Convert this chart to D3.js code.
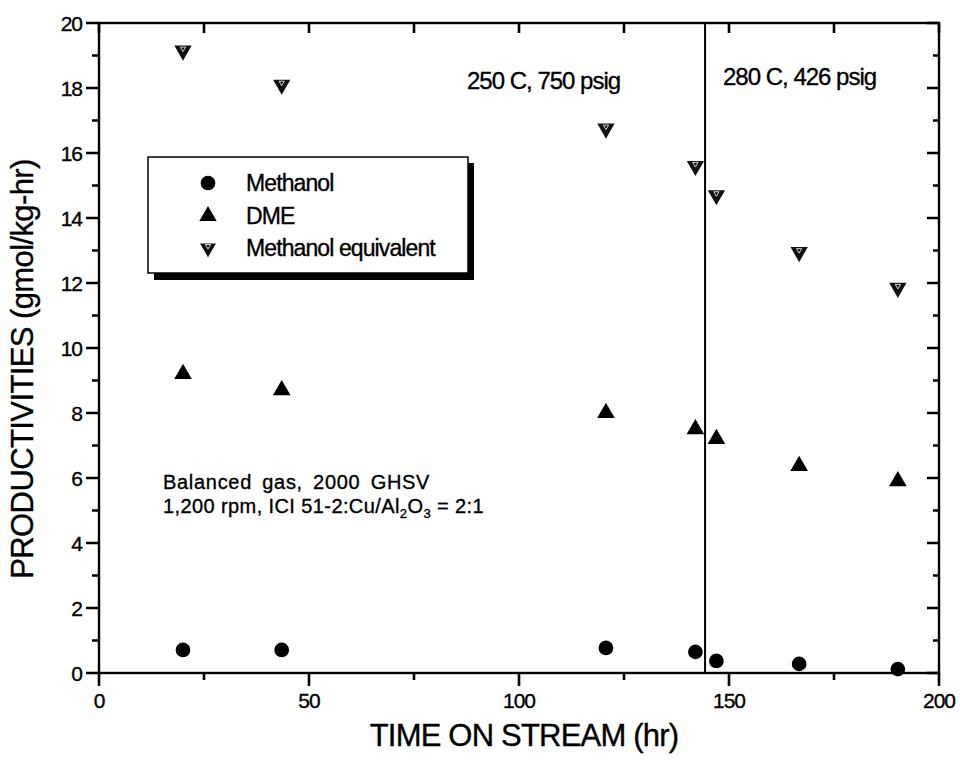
<!DOCTYPE html>
<html><head><meta charset="utf-8">
<script src="https://cdn.jsdelivr.net/npm/d3@7"></script>
<style>
body{margin:0;background:#fff;}
svg{display:block;font-family:"Liberation Sans",Arial,sans-serif;}
</style></head>
<body>
<svg id="c" width="960" height="761"></svg>
<script>
const hours = [20, 43.5, 120.7, 142, 147, 166.7, 190.2];
const methanol = [0.71, 0.71, 0.77, 0.65, 0.37, 0.28, 0.12];
const dme = [9.2, 8.7, 8.0, 7.5, 7.2, 6.37, 5.9];
const methanolEquiv = [19.15, 18.1, 16.75, 15.6, 14.7, 12.95, 11.85];
const seriesNames = ["Methanol", "DME", "Methanol equivalent"];
const xTicks = [0, 50, 100, 150, 200];
const xMinorTicks = [25, 75, 125, 175];
const yTicks = [0, 2, 4, 6, 8, 10, 12, 14, 16, 18, 20];
const yMinorTicks = [1, 3, 5, 7, 9, 11, 13, 15, 17, 19];
const changeTime = 144.3;
const regionLabels = ["250 C, 750 psig", "280 C, 426 psig"];

const svg = d3.select("#c");
const L = 99, R = 939, T = 23, B = 673;
const x = d3.scaleLinear().domain([0, 200]).range([L, R]);
const y = d3.scaleLinear().domain([0, 20]).range([B, T]);
const SW = 2.4;

// ticks: bottom/left outward, top/right inward
const p = d3.path();
xTicks.forEach(d => { p.moveTo(x(d), B); p.lineTo(x(d), B + 13); });
xMinorTicks.forEach(d => { p.moveTo(x(d), B); p.lineTo(x(d), B + 7); });
xTicks.concat(xMinorTicks).forEach(d => { p.moveTo(x(d), T); p.lineTo(x(d), T + 10); });
yTicks.forEach(d => { p.moveTo(L, y(d)); p.lineTo(L - 13, y(d)); p.moveTo(R, y(d)); p.lineTo(R - 12, y(d)); });
yMinorTicks.forEach(d => { p.moveTo(L, y(d)); p.lineTo(L - 7, y(d)); p.moveTo(R, y(d)); p.lineTo(R - 6, y(d)); });
svg.append("path").attr("d", p.toString()).attr("fill", "none").attr("stroke", "#000").attr("stroke-width", 2.6);

const heavy = sel => sel.attr("stroke", "#000").attr("stroke-width", 0.35);

// tick labels
heavy(svg.append("g").selectAll("text").data(xTicks).join("text")
  .attr("x", d => x(d)).attr("y", 708).attr("text-anchor", "middle")
  .attr("font-size", 21).attr("letter-spacing", -1).text(d => d));
heavy(svg.append("g").selectAll("text").data(yTicks).join("text")
  .attr("x", 82).attr("y", d => y(d) + 7.5).attr("text-anchor", "end")
  .attr("font-size", 21).attr("letter-spacing", -1).text(d => d));

// frame
svg.append("rect").attr("x", L).attr("y", T).attr("width", R - L).attr("height", B - T)
  .attr("fill", "none").attr("stroke", "#000").attr("stroke-width", SW);

// vertical divider
svg.append("line").attr("x1", x(changeTime)).attr("x2", x(changeTime))
  .attr("y1", T).attr("y2", B).attr("stroke", "#000").attr("stroke-width", 2);

// axis titles
heavy(svg.append("text").attr("x", 524).attr("y", 746).attr("text-anchor", "middle")
  .attr("font-size", 31).attr("letter-spacing", -0.8).text("TIME ON STREAM (hr)"));
heavy(svg.append("text").attr("transform", "translate(33,369) rotate(-90)").attr("text-anchor", "middle")
  .attr("font-size", 31).attr("letter-spacing", -0.6).text("PRODUCTIVITIES (gmol/kg-hr)"));

// symbols
const circ = d3.symbol().type(d3.symbolCircle).size(170);
const up = d3.symbol().type(d3.symbolTriangle).size(135);
function downTri(g, cx, cy, sz) {
  g.append("path").attr("d", d3.symbol().type(d3.symbolTriangle).size(sz)())
    .attr("transform", `translate(${cx},${cy}) rotate(180)`).attr("fill", "#111");
  g.append("path").attr("d", d3.symbol().type(d3.symbolTriangle).size(12)())
    .attr("transform", `translate(${cx},${cy - 2}) rotate(180)`).attr("fill", "none")
    .attr("stroke", "#fff").attr("stroke-width", 0.8);
}
const pts = svg.append("g");
hours.forEach((h, i) => {
  pts.append("path").attr("d", circ()).attr("transform", `translate(${x(h)},${y(methanol[i])})`).attr("fill", "#000");
  pts.append("path").attr("d", up()).attr("transform", `translate(${x(h)},${y(dme[i])})`).attr("fill", "#000");
  downTri(pts, x(h), y(methanolEquiv[i]), 130);
});

// region labels
heavy(svg.append("text").attr("x", 467).attr("y", 89).attr("font-size", 24).attr("letter-spacing", -1).text(regionLabels[0]));
heavy(svg.append("text").attr("x", 723).attr("y", 85).attr("font-size", 24).attr("letter-spacing", -1).text(regionLabels[1]));

// legend
const lg = svg.append("g");
lg.append("rect").attr("x", 154).attr("y", 163).attr("width", 320).attr("height", 117).attr("fill", "#000");
lg.append("rect").attr("x", 148).attr("y", 157).attr("width", 320).attr("height", 116)
  .attr("fill", "#fff").attr("stroke", "#000").attr("stroke-width", 1.5);
const legY = [183, 216, 248];
lg.append("path").attr("d", d3.symbol().type(d3.symbolCircle).size(170)()).attr("transform", `translate(208,${legY[0]})`).attr("fill", "#000");
lg.append("path").attr("d", d3.symbol().type(d3.symbolTriangle).size(130)()).attr("transform", `translate(208,${legY[1]})`).attr("fill", "#000");
downTri(lg, 208, legY[2], 110);
seriesNames.forEach((n, i) => {
  heavy(lg.append("text").attr("x", 246).attr("y", legY[i] + 8).attr("font-size", 23).attr("letter-spacing", -0.9).text(n));
});

// conditions note
heavy(svg.append("text").attr("x", 163).attr("y", 489).attr("font-size", 20).attr("letter-spacing", 0.7)
  .attr("word-spacing", 4).text("Balanced gas, 2000 GHSV"));
const t2 = svg.append("text").attr("x", 163).attr("y", 513).attr("font-size", 20).attr("letter-spacing", 0.4);
heavy(t2);
t2.append("tspan").text("1,200 rpm, ICI 51-2:Cu/Al");
t2.append("tspan").attr("font-size", 13).attr("dy", 5).text("2");
t2.append("tspan").attr("dy", -5).text("O");
t2.append("tspan").attr("font-size", 13).attr("dy", 5).text("3");
t2.append("tspan").attr("dy", -5).text(" = 2:1");
</script>
</body></html>
